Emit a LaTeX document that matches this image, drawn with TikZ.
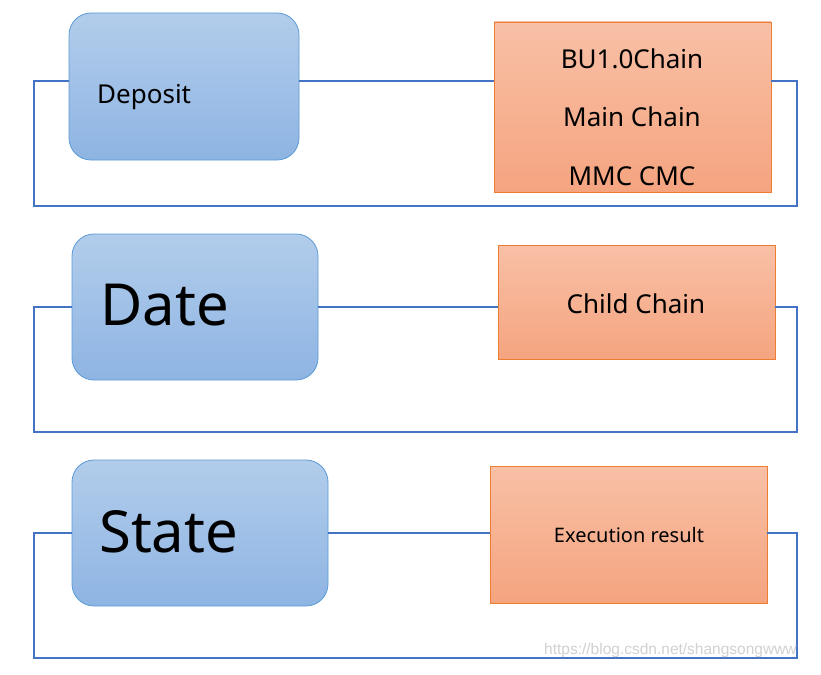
\documentclass[tikz,border=0pt]{standalone}
\usepackage{fontspec}
\setmainfont{Noto Sans}
\newfontfamily\wmfont{Liberation Sans}
\definecolor{frameblue}{HTML}{4472C4}
\definecolor{bluetop}{HTML}{B2CDEB}
\definecolor{bluebot}{HTML}{8EB4E3}
\definecolor{blueedge}{HTML}{5B9BD5}
\definecolor{orgtop}{HTML}{F8C0A6}
\definecolor{orgbot}{HTML}{F5A47F}
\definecolor{orgedge}{HTML}{ED7D31}
\begin{document}
\begin{tikzpicture}[x=1pt,y=-1pt,
  framebox/.style={draw=frameblue,line width=1.6pt},
  bluebox/.style={draw=blueedge,line width=0.8pt,rounded corners=22pt,top color=bluetop,bottom color=bluebot,inner sep=0pt,outer sep=0pt},
  orgbox/.style={draw=orgedge,line width=0.8pt,top color=orgtop,bottom color=orgbot,inner sep=0pt,outer sep=0pt},
  lbl/.style={inner sep=0pt,anchor=base west},
  clbl/.style={inner sep=0pt,anchor=base}]
\useasboundingbox (0,0) rectangle (821,674);
\fill[white] (0,0) rectangle (821,674);
% ---------- row 1
\node[bluebox,minimum width=230pt,minimum height=147pt] (b1) at (184,86.5) {};
\node[orgbox,minimum width=277pt,minimum height=170pt] (o1) at (632.5,107) {};
\coordinate (tl1) at (34,81);
\coordinate (br1) at (797,206);
\draw[framebox] (b1.west |- tl1) -- (tl1) -- (tl1 |- br1) -- (br1) -- (br1 |- tl1) -- (o1.east |- tl1);
\draw[framebox] (b1.east |- tl1) -- (o1.west |- tl1);
\node[lbl,font=\fontsize{26}{30}\selectfont] (deposit) at (97,103) {Deposit};
\node[clbl,font=\fontsize{26}{30}\selectfont] (bu) at (632,69) {BU1.0Chain};
\node[clbl,font=\fontsize{26}{30}\selectfont] (mc) at (632,127) {Main Chain};
\node[clbl,font=\fontsize{26}{30}\selectfont] (mmc) at (632,185) {MMC CMC};
% ---------- row 2
\node[bluebox,minimum width=246pt,minimum height=146pt] (b2) at (195,307) {};
\node[orgbox,minimum width=277pt,minimum height=114pt] (o2) at (636.5,302) {};
\coordinate (tl2) at (34,307);
\coordinate (br2) at (797,432);
\draw[framebox] (b2.west |- tl2) -- (tl2) -- (tl2 |- br2) -- (br2) -- (br2 |- tl2) -- (o2.east |- tl2);
\draw[framebox] (b2.east |- tl2) -- (o2.west |- tl2);
\node[lbl,font=\fontsize{58}{64}\selectfont] (date) at (100,325) {Date};
\node[clbl,font=\fontsize{26}{30}\selectfont] (child) at (636,313) {Child Chain};
% ---------- row 3
\node[bluebox,minimum width=256pt,minimum height=146pt] (b3) at (200,533) {};
\node[orgbox,minimum width=277pt,minimum height=137pt] (o3) at (628.5,534.5) {};
\coordinate (tl3) at (34,533);
\coordinate (br3) at (797,658);
\draw[framebox] (b3.west |- tl3) -- (tl3) -- (tl3 |- br3) -- (br3) -- (br3 |- tl3) -- (o3.east |- tl3);
\draw[framebox] (b3.east |- tl3) -- (o3.west |- tl3);
\node[lbl,font=\fontsize{58}{64}\selectfont] (state) at (99,552) {State};
\node[clbl,font=\fontsize{20}{24}\selectfont] (exec) at (629,542) {Execution result};
% ---------- watermark
\node[inner sep=0pt,anchor=base west,text=black!18,font=\wmfont\fontsize{15.5}{18}\selectfont] (wm) at (544,654) {https://blog.csdn.net/shangsongwww};
\end{tikzpicture}
\end{document}
